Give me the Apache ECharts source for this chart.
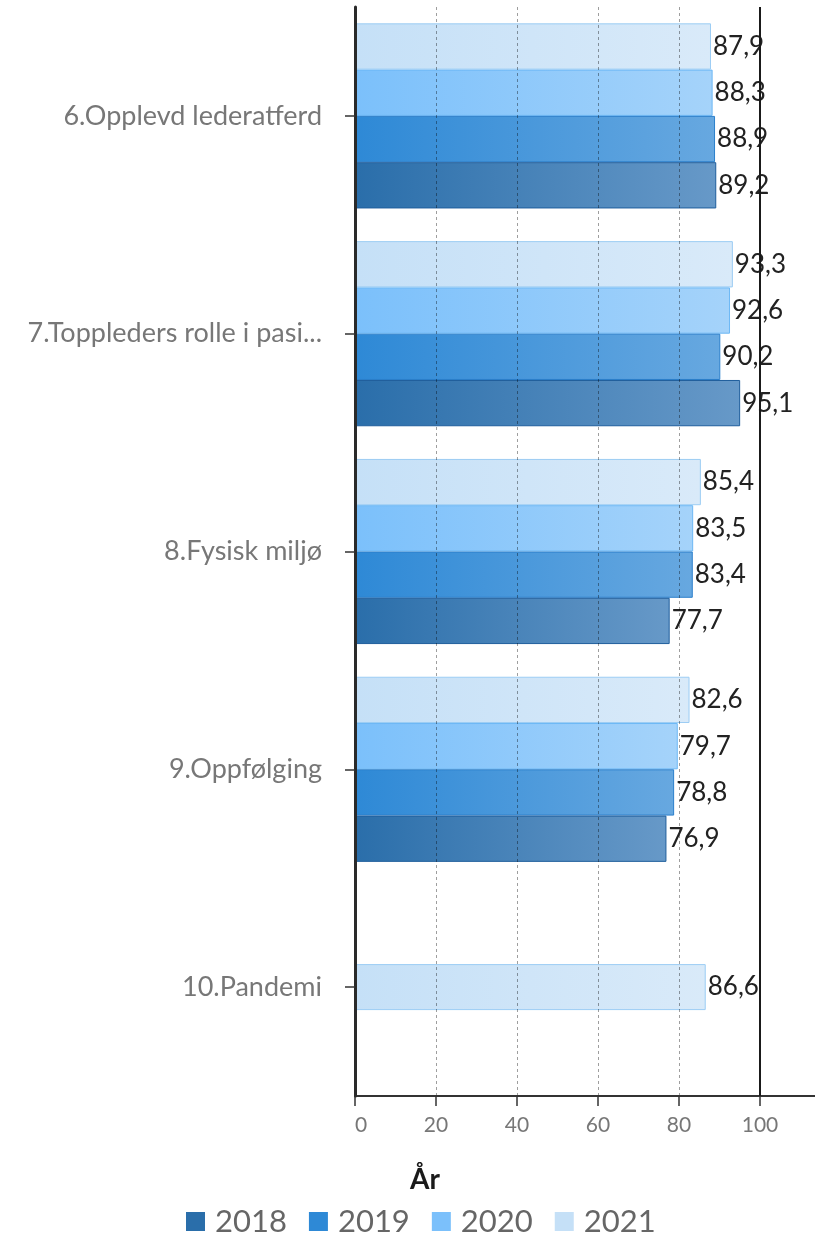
<!DOCTYPE html>
<html>
<head>
<meta charset="utf-8">
<script src="https://cdn.jsdelivr.net/npm/echarts@6/dist/echarts.min.js"></script>
<style>
  html, body { margin: 0; padding: 0; background: #fff; }
  #chart { width: 815px; height: 1236px; }
</style>
</head>
<body>
<div id="chart"></div>
<script>
var categories = ['6.Opplevd lederatferd', '7.Toppleders rolle i pasi...', '8.Fysisk miljø', '9.Oppfølging', '10.Pandemi'];
var years = ['2018', '2019', '2020', '2021'];
var v2018 = [89.2, 95.1, 77.7, 76.9, '-'];
var v2019 = [88.9, 90.2, 83.4, 78.8, '-'];
var v2020 = [88.3, 92.6, 83.5, 79.7, '-'];
var v2021 = [87.9, 93.3, 85.4, 82.6, '-'];
// pandemi kun målt i 2021, tegnes sentrert på egen akse
var v2021Pandemi = ['-', '-', '-', '-', 86.6];
var xTicks = [0, 20, 40, 60, 80, 100];

var fontFamily = 'Lato, sans-serif';

function grad(c1, c2) {
  return new echarts.graphic.LinearGradient(0, 0, 1, 0, [
    { offset: 0, color: c1 },
    { offset: 1, color: c2 }
  ]);
}

var styles = {
  '2018': { from: '#2a6eaa', to: '#6799c8', border: '#1f5e9c' },
  '2019': { from: '#2e89d6', to: '#67a8e0', border: '#2b7fcb' },
  '2020': { from: '#7bc0fb', to: '#a5d3fa', border: '#6db8f5' },
  '2021': { from: '#c5e0f7', to: '#d9eaf9', border: '#9ccdf4' }
};

function fmt(p) {
  return String(p.value).replace('.', ',');
}

var labelStyle = {
  show: true,
  position: 'right',
  distance: 2,
  formatter: fmt,
  color: '#222',
  fontSize: 26,
  fontFamily: fontFamily
};

function barSeries(name, data, axisIndex) {
  return {
    name: name,
    type: 'bar',
    yAxisIndex: axisIndex || 0,
    data: data,
    barGap: '0%',
    barCategoryGap: '15%',
    itemStyle: {
      color: grad(styles[name].from, styles[name].to),
      borderColor: styles[name].border,
      borderWidth: 1
    },
    label: labelStyle,
    emphasis: { disabled: true }
  };
}

var series = [
  barSeries('2021', v2021),
  barSeries('2020', v2020),
  barSeries('2019', v2019),
  barSeries('2018', v2018)
];
var pandemi = barSeries('2021', v2021Pandemi, 1);
pandemi.barWidth = 46;
pandemi.markLine = {
  silent: true,
  symbol: 'none',
  label: { show: false },
  lineStyle: { color: '#1a1a1a', width: 2, type: 'solid' },
  data: [{ xAxis: 100 }]
};
series.push(pandemi);

var legendData = years.map(function (y) {
  return { name: y, itemStyle: { color: styles[y].from, borderWidth: 0 } };
});

var chart = echarts.init(document.getElementById('chart'));
chart.setOption({
  animation: false,
  title: {
    text: 'År',
    left: 405,
    top: 1161,
    textStyle: { fontSize: 28, fontWeight: 'bold', color: '#1a1a1a', fontFamily: fontFamily }
  },
  legend: {
    data: legendData,
    top: 1201,
    left: 181,
    icon: 'rect',
    itemWidth: 19,
    itemHeight: 19,
    itemGap: 22,
    itemStyle: { borderWidth: 0 },
    textStyle: { fontSize: 31, color: '#666', fontFamily: fontFamily, padding: [0, 0, 0, 5] },
    selectedMode: false
  },
  grid: { left: 355, right: -26, top: 7, bottom: 140, containLabel: false, outerBoundsMode: 'none' },
  xAxis: {
    type: 'value',
    min: 0,
    max: 120,
    interval: 20,
    z: 3,
    axisLine: { show: true, lineStyle: { color: '#333', width: 2 } },
    axisTick: { show: true, length: 10, lineStyle: { color: '#333', width: 1.5 } },
    axisLabel: {
      color: '#777',
      fontSize: 21,
      fontFamily: fontFamily,
      margin: 19,
      alignMinLabel: 'left',
      formatter: function (v) { return xTicks.indexOf(v) >= 0 ? String(v) : ''; }
    },
    splitLine: { show: true, lineStyle: { color: 'rgba(0,0,0,0.38)', type: [3, 3], width: 1 } }
  },
  yAxis: [{
    type: 'category',
    data: categories,
    inverse: true,
    z: 4,
    axisLine: { show: true, lineStyle: { color: '#2a2a2a', width: 3 } },
    axisTick: { show: true, alignWithLabel: true, length: 10, lineStyle: { color: '#333', width: 1.5 } },
    axisLabel: { color: '#777', fontSize: 27, fontFamily: fontFamily, margin: 33 },
    splitLine: { show: false }
  }, {
    type: 'category',
    data: categories,
    inverse: true,
    show: false
  }],
  series: series
});
</script>
</body>
</html>
